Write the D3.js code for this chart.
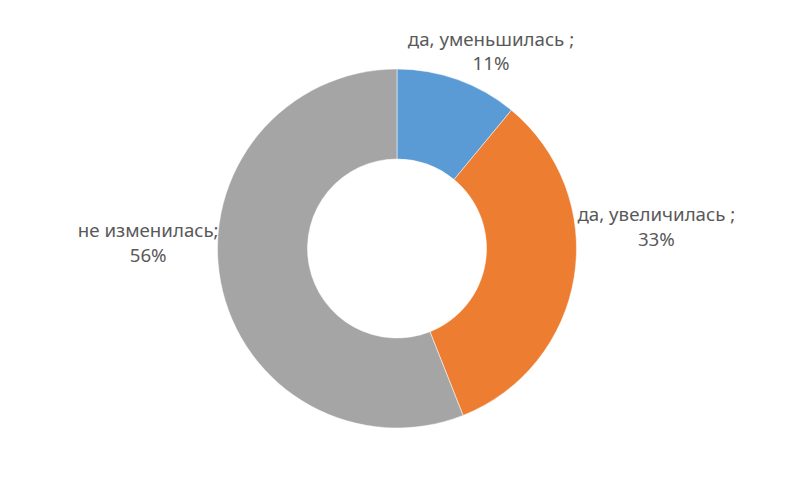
<!DOCTYPE html>
<html>
<head>
<meta charset="utf-8">
<script src="https://cdn.jsdelivr.net/npm/d3@7"></script>
<style>
    body { margin: 0; background: #fff; }
    svg { display: block; }
    .slice-label { font-family: "Noto Sans", sans-serif; font-size: 18.7px; fill: #595959; }
</style>
</head>
<body>
<div id="chart"></div>
<script>
const categories = ['да, уменьшилась ;', 'да, увеличилась ;', 'не изменилась;'];
const values = [11, 33, 56];
const colors = ['#5B9BD5', '#ED7D31', '#A5A5A5'];

const width = 807;
const height = 497;
const cx = 397;
const cy = 248.5;
const outerRadius = 179.5;
const innerRadius = 89.5;
const lineHeight = 24.5;

const svg = d3.select('#chart').append('svg')
    .attr('width', width)
    .attr('height', height);

const pieGenerator = d3.pie().sort(null).value(d => d.value);
const arcGenerator = d3.arc().innerRadius(innerRadius).outerRadius(outerRadius);

const data = categories.map((c, i) => ({ name: c, value: values[i], color: colors[i] }));
const arcs = pieGenerator(data);

const g = svg.append('g').attr('transform', `translate(${cx},${cy})`);

g.selectAll('.arc')
    .data(arcs)
    .enter()
    .append('path')
    .attr('class', 'arc')
    .attr('d', arcGenerator)
    .attr('fill', d => d.data.color)
    .attr('stroke', '#fff')
    .attr('stroke-width', 0.5);

// label placement, outside end like in the office chart
// side: where the label block touches the donut's bounding circle
const labelLayout = [
    { side: 'top', shift: 94 },
    { side: 'right', shift: -21 },
    { side: 'left', shift: -5 }
];

arcs.forEach((d, i) => {
    const pct = Math.round(d.data.value / d3.sum(values) * 100) + '%';
    const lines = [d.data.name, pct];
    const layout = labelLayout[i];

    const text = g.append('text')
        .attr('class', 'slice-label')
        .attr('text-anchor', 'middle');

    const probe = text.append('tspan').text(lines[0]);
    const w = probe.node().getComputedTextLength();
    probe.remove();

    let x, lastBaseline;
    if (layout.side === 'top') {
        x = layout.shift;
        lastBaseline = -outerRadius + 1;
    } else if (layout.side === 'right') {
        x = outerRadius + 1 + w / 2;
        lastBaseline = layout.shift + lineHeight / 2 + 6;
    } else {
        x = -outerRadius + 1 - w / 2;
        lastBaseline = layout.shift + lineHeight / 2 + 6;
    }

    lines.forEach((line, j) => {
        text.append('tspan')
            .attr('x', x)
            .attr('y', lastBaseline - lineHeight * (lines.length - 1 - j))
            .text(line);
    });
});
</script>
</body>
</html>
